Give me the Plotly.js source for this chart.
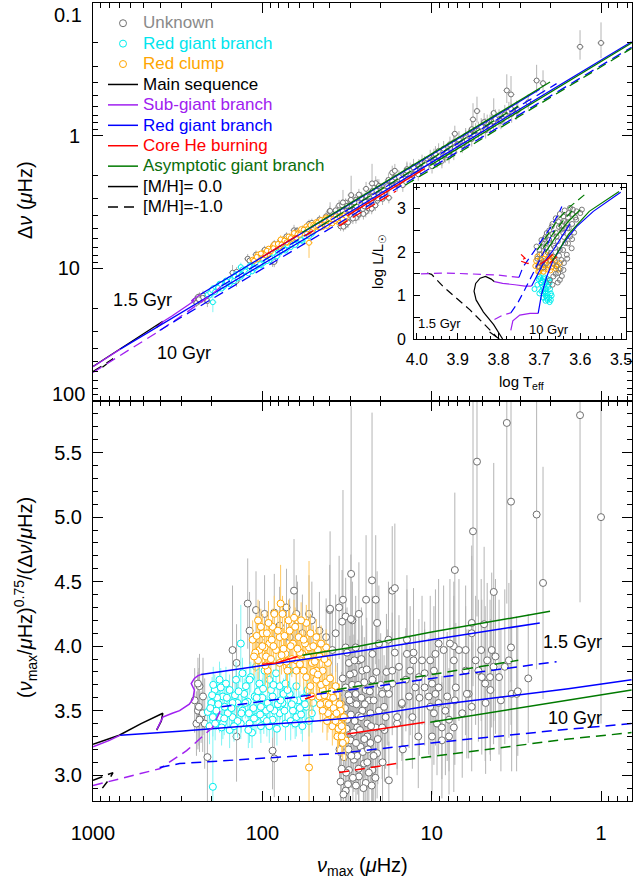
<!DOCTYPE html>
<html><head><meta charset="utf-8">
<script src="https://cdn.plot.ly/plotly-3.0.1.min.js"></script>
<style>html,body{margin:0;padding:0;background:#fff}#chart{width:633px;height:882px}</style>
</head><body><div id="chart"></div>
<script>
// ---------------- stars: nu_max (muHz), ratio = nu_max^0.75/dnu, ratio error ----------------
const unkNumax = [
251,240,235,230,245,224,219,240,235,225,150,211,142,87,237,142,
122,109,97,85,65,63,62,53,51,46,40,35.2,32.2,29.4,119,104,79,69,58,42,38.6,36.9,32.2,29.9,72,85,
30.8,28.8,26.9,32.2,28.1,24.5,29.4,25.7,23.5,31.5,27.5,24.0,30.1,26.3,23.0,28.8,25.1,30.8,26.9,24.5,
22.4,33.0,21.4,20.5,22.4,25.7,28.1,22.4,19.6,18.7,17.9,21.0,32.2,34,33,31,29,27,26,24,
23,32,27.5,25,29.5,35,31,24,28,34,22,30,
33.5,32.5,31.8,30.5,29.8,29.2,28.5,28.0,27.2,27.0,26.5,26.0,25.5,25.3,24.8,24.2,23.8,23.2,22.8,22.0,
21.5,21.2,20.8,20.0,19.5,19.0,18.5,35.5,36.0,34.5,33.2,31.2,30.4,27.8,26.1,25.0,23.5,22.6,28.6,31.6,
16,15,14.8,13,12,11.8,16.5,14,12.8,18,
21,17.1,21.4,26.9,33.8,13.6,13.4,15.6,14.2,17.1,17.9,19.1,11.4,11.0,12.5,10.2,9.7,9.95,9.5,9.1,
9.7,9.3,8.7,8.3,7.9,10.2,9.1,8.1,8.5,9.5,7.4,7.4,6.3,6.3,6.05,5.5,5.06,4.83,4.52,4.42,
4.31,5.8,5.8,3.37,3.15,3.1,2.69,7.2,
9.1,7.8,6.9,5.3,4.7,4.0,3.7,3.9,4.8,5.8,6.6,7.4,7.9,8.7,9.95,10.4,11.0,11.9,12.8,14.0,
15.0,16.0,17.1,18.3,19.6,20.5,5.1,4.2,3.5,3.4,6.2,4.5,7.3,
1.33,3.6,5.4,3.4,1.0,2.4,5.7,7.3,2.2,4.3,22.5,16.5,24.4,39.8,33.4,30,4.9];
const unkRatio = [
3.58,3.50,3.69,3.45,3.40,3.61,3.40,3.71,3.43,3.48,3.97,3.14,3.30,3.19,3.53,3.87,
4.33,4.28,4.25,3.13,4.43,4.25,4.20,4.25,4.20,4.12,4.28,4.30,4.23,4.20,4.12,4.05,4.16,4.07,4.10,4.07,3.97,4.10,3.99,4.56,4.30,4.26,
3.87,3.79,3.89,3.68,3.63,3.66,3.56,3.50,3.58,3.43,3.37,3.40,3.27,3.22,3.25,3.12,3.09,3.04,2.99,2.94,
3.04,3.14,3.37,3.50,3.74,3.81,3.99,3.94,3.63,3.45,2.96,3.17,2.88,3.55,3.30,3.20,3.33,3.46,3.60,3.30,
3.48,3.02,3.15,3.72,3.70,3.20,3.62,3.10,2.92,3.05,3.15,3.47,
3.75,3.52,3.36,3.58,3.15,2.98,3.42,3.25,3.70,3.05,3.35,3.90,3.18,2.90,3.55,3.82,3.20,3.65,3.38,3.58,
2.98,3.80,3.28,3.70,3.10,3.35,3.80,3.40,3.62,2.95,2.85,2.93,3.78,3.55,3.45,3.28,3.02,2.92,3.89,3.95,
3.40,3.55,3.20,3.45,3.30,3.60,3.95,4.05,3.95,4.05,
4.18,4.43,4.36,4.25,4.19,3.61,3.81,3.84,3.74,3.71,3.63,3.53,3.89,3.79,3.68,3.89,3.81,3.71,3.63,3.56,
3.48,3.40,3.37,3.50,3.43,3.53,3.68,3.61,3.97,3.94,4.00,3.89,3.97,3.81,3.63,3.89,3.76,3.71,3.76,3.97,
3.84,4.10,4.18,3.63,3.63,3.65,3.75,3.68,
4.02,4.02,3.97,3.81,3.89,3.76,3.84,3.58,3.56,3.53,3.48,3.37,3.30,3.27,3.30,3.61,3.68,3.76,3.89,3.94,
3.56,3.45,3.81,3.68,3.37,4.02,3.97,3.92,3.89,3.99,3.63,3.66,3.58,
5.79,5.73,5.43,5.12,5.00,5.02,4.89,4.59,4.49,4.42,4.51,4.45,4.36,4.29,4.36,4.21,4.17];
const unkErr = [
0.25,0.30,0.25,0.20,0.25,0.30,0.35,0.20,0.25,0.30,0.50,0.35,0.35,0.30,0.30,0.30,
0.35,0.30,0.30,0.30,0.40,0.30,0.30,0.30,0.30,0.30,0.35,0.40,0.30,0.30,0.30,0.30,0.30,0.30,0.30,0.30,0.30,0.30,0.30,1.30,0.30,0.30,
0.35,0.30,0.35,0.30,0.30,0.35,0.30,0.30,0.35,0.25,0.30,0.30,0.25,0.30,0.30,0.25,0.30,0.25,0.30,0.30,
0.35,0.25,0.35,0.40,0.40,0.35,0.40,0.45,0.40,0.40,0.30,0.35,0.25,0.25,0.25,0.25,0.30,0.30,0.30,0.30,
0.35,0.25,0.30,0.35,0.30,0.25,0.30,0.30,0.30,0.25,0.35,0.30,
0.30,0.25,0.25,0.30,0.25,0.30,0.30,0.30,0.35,0.30,0.30,0.40,0.30,0.30,0.35,0.40,0.30,0.35,0.35,0.40,
0.30,0.40,0.35,0.40,0.35,0.40,0.45,0.25,0.25,0.25,0.25,0.30,0.30,0.30,0.30,0.30,0.30,0.30,0.35,0.35,
0.40,0.40,0.40,0.40,0.40,0.45,0.45,0.50,0.50,0.45,
0.40,0.50,0.50,0.40,0.40,0.40,0.50,0.40,0.40,0.40,0.40,0.40,0.50,0.40,0.40,0.50,0.50,0.40,0.40,0.40,
0.40,0.40,0.40,0.50,0.40,0.40,0.40,0.50,0.50,0.50,0.50,0.50,0.50,0.50,0.50,0.50,0.60,0.60,0.60,0.60,
0.60,0.60,0.60,0.60,0.60,0.50,0.50,0.50,
0.50,0.50,0.55,0.55,0.60,0.60,0.60,0.55,0.55,0.50,0.50,0.50,0.45,0.45,0.45,0.45,0.45,0.45,0.50,0.50,
0.45,0.40,0.45,0.45,0.40,0.45,0.55,0.60,0.60,0.60,0.50,0.55,0.50,
1.45,1.40,1.20,1.40,1.60,1.20,1.20,0.60,0.90,1.00,1.30,0.50,0.50,0.60,0.85,0.50,0.60];

const rgbNumax = [196,134,179,200,187,171,156,143,131,125,117,111,104,97,91,87,79,76,69,66,
61,55,51,205,171,150,131,119,109,95,87,79,73,63,58,156,102,179,140,83,
73,109,164,191,93,122,63,54,150,91,196,119,69,102,134,167,185,160,145,128,
113,106,98,89,81,75,68,60,57,174,140,115,100,85,210,195,120,65,
203,198,190,182,176,168,162,152,147,138,133,126,121,112,108,103,99,94,90,86,
82,78,74,71,67,64,59,56,53,50];
const rgbRatio = [2.91,4.02,3.74,3.56,3.50,3.61,3.66,3.74,3.79,3.69,3.76,3.61,3.71,3.81,3.74,3.61,3.69,3.56,3.63,3.50,
3.58,3.53,3.48,3.38,3.40,3.45,3.50,3.40,3.45,3.50,3.43,3.48,3.40,3.45,3.38,3.35,3.38,3.45,3.56,3.79,
3.71,3.84,3.71,3.66,3.56,3.57,3.69,3.66,3.56,3.38,3.45,3.74,3.81,3.53,3.40,3.53,3.60,3.48,3.62,3.63,
3.52,3.65,3.44,3.66,3.55,3.63,3.42,3.52,3.60,3.37,3.42,3.33,3.60,3.50,3.49,3.70,3.48,3.58,
3.52,3.62,3.40,3.55,3.68,3.44,3.60,3.52,3.38,3.65,3.48,3.56,3.35,3.44,3.60,3.47,3.67,3.42,3.52,3.70,
3.36,3.58,3.50,3.66,3.55,3.40,3.47,3.55,3.42,3.56];
const rgbErr = [0.55,0.30,0.14,0.12,0.15,0.13,0.12,0.14,0.12,0.13,0.12,0.15,0.13,0.12,0.14,0.12,0.13,0.15,0.12,0.14,
0.13,0.12,0.15,0.14,0.12,0.13,0.12,0.15,0.13,0.12,0.14,0.12,0.13,0.15,0.12,0.14,0.13,0.12,0.15,0.13,
0.12,0.14,0.13,0.12,0.15,0.13,0.12,0.14,0.12,0.13,0.15,0.12,0.14,0.13,0.12,0.15,0.13,0.12,0.14,0.12,
0.13,0.15,0.12,0.14,0.13,0.12,0.15,0.13,0.12,0.14,0.13,0.12,0.15,0.13,0.12,0.14,0.12,0.13,
0.12,0.14,0.13,0.12,0.15,0.13,0.12,0.14,0.12,0.13,0.15,0.12,0.14,0.13,0.12,0.15,0.13,0.12,0.14,0.12,
0.13,0.15,0.12,0.14,0.13,0.12,0.15,0.13,0.12,0.14];

const rcNumax = [114,106,104,99.6,95,91,87,83,79,76,73,69,66,63,61,58,55,53,51,48,
46,44,42,106,93,79,71,63,57,85,78,97,59,52,47,41,55,52,48,46,
44,42,40,39.5,37.7,36.9,35.2,33.7,33.0,34.5,38.6,32.2,36.0,41,44,48,51,36.9,53,
45,43,40.5,38,37,35.5,34,39,42,50,60,67,75,88,100,110,70,56,64,92,
112,108,102,96,94,89,86,81,77,74,72,68,65,62,60,57,54,50,49,45,
43,47,45.5,41.5,39.8,38.2,36.5,35.0,34.0,33.5];
const rcRatio = [4.05,4.20,3.97,4.10,3.92,4.02,4.15,3.97,4.07,4.25,3.94,4.12,4.02,3.89,4.07,3.94,4.18,3.99,3.87,4.07,
3.92,3.81,3.99,3.89,3.81,3.87,3.81,3.81,3.81,4.25,4.33,3.99,4.20,4.10,3.97,3.87,3.76,3.69,3.74,3.61,
3.66,3.56,3.61,3.50,3.45,3.56,3.40,3.35,3.45,3.50,3.38,3.27,3.30,3.48,3.50,3.81,3.61,3.69,3.06,
3.70,3.62,3.55,3.52,3.42,3.36,3.30,3.65,3.72,3.80,3.95,3.90,3.98,4.05,4.00,3.95,4.20,4.02,4.15,4.18,
3.92,4.08,4.15,3.85,4.10,3.90,4.00,4.12,3.93,4.08,3.88,4.00,4.22,3.98,3.86,4.05,3.92,4.00,3.88,4.02,
3.90,3.78,3.55,3.42,3.75,3.60,3.48,3.55,3.38,3.25];
const rcErr = [0.15,0.16,0.14,0.15,0.17,0.15,0.14,0.16,0.15,0.14,0.15,0.16,0.14,0.15,0.17,0.15,0.14,0.16,0.15,0.14,
0.15,0.16,0.14,0.15,0.17,0.15,0.14,0.16,0.15,0.14,0.30,0.16,0.14,0.15,0.17,0.15,0.14,0.16,0.15,0.14,
0.15,0.16,0.14,0.15,0.17,0.15,0.14,0.16,0.15,0.14,0.15,0.16,0.14,0.15,0.17,0.15,0.14,0.16,1.60,
0.15,0.14,0.16,0.15,0.14,0.15,0.16,0.14,0.15,0.17,0.15,0.14,0.16,0.15,0.14,0.15,0.16,0.14,0.15,0.17,
0.15,0.16,0.14,0.15,0.17,0.15,0.14,0.16,0.15,0.14,0.15,0.16,0.14,0.15,0.17,0.15,0.14,0.16,0.15,0.14,
0.15,0.16,0.14,0.15,0.17,0.15,0.14,0.16,0.15,0.14];

// ---------------- model tracks (nu_max, ratio) ----------------
const ms15Numax = [1000,700,520,420,387,395,421], ms15Ratio = [3.24,3.31,3.40,3.46,3.48,3.42,3.35];
const sgb15Numax = [421,387,340,308,270,257,252,263,252,241,230], sgb15Ratio = [3.35,3.45,3.48,3.50,3.55,3.59,3.66,3.71,3.75,3.77,3.78];
const rgb15Numax = [230,100,30,10,2.3], rgb15Ratio = [3.78,3.85,3.95,4.05,4.18];
const cheb15Numax = [100,83,62], cheb15Ratio = [3.86,3.87,3.92];
const agb15Numax = [58,27,10,2.0], agb15Ratio = [3.93,4.00,4.11,4.27];
const ms15mNumax = [1000,870,762,800,880], ms15mRatio = [2.96,2.99,3.02,2.97,2.90];
const sgb15mNumax = [1000,404,280,197,174], sgb15mRatio = [2.92,3.05,3.19,3.37,3.52];
const rgb15mNumax = [174,100,27,10,1.83], rgb15mRatio = [3.53,3.57,3.67,3.75,3.88];
const cheb15mNumax = [56,48], cheb15mRatio = [3.59,3.62];
const agb15mNumax = [45,33.8,10,3.08], agb15mRatio = [3.64,3.67,3.78,3.89];
const sgb10Numax = [1000,800,690], sgb10Ratio = [3.22,3.27,3.31];
const rgb10Numax = [690,308,100,48,27,10,1.56,0.66], rgb10Ratio = [3.31,3.34,3.39,3.42,3.45,3.54,3.67,3.74];
const cheb10Numax = [31.5,11.0], cheb10Ratio = [3.32,3.41];
const agb10Numax = [10.2,1.56,0.66], agb10Ratio = [3.41,3.58,3.66];
const rgb10mNumax = [404,308,35,10,1.75,0.66], rgb10mRatio = [3.06,3.09,3.17,3.25,3.35,3.40];
const cheb10mNumax = [35.2,16.2], cheb10mRatio = [3.02,3.09];
const agb10mNumax = [14.3,1.56,0.66], agb10mRatio = [3.12,3.28,3.33];

// ---------------- HR inset (log Teff, log L) ----------------
const hrUnkT = [3.707,3.695,3.682,3.670,3.654,3.641,3.629,3.609,3.596,3.690,3.674,3.658,3.646,3.633,3.666,3.650,3.637,3.625,3.658,3.646,
3.633,3.621,3.654,3.641,3.650,3.666,3.674,3.682,3.695,3.703,3.680,3.665,3.660,3.645,3.700,3.688,3.618,3.612,3.628,3.640,
3.700,3.692,3.685,3.676,3.668,3.660,3.650,3.638,3.625,3.684,3.676,3.668,3.652,3.640,3.630,3.620,3.672,3.662,3.655,3.642,
3.632,3.620,3.610,3.662,3.652,3.642,3.630,3.620,3.648,3.640,3.632,3.660,3.645,3.655,3.668,3.690,3.698,3.705,3.600,3.615];
const hrUnkL = [2.13,2.28,2.44,2.59,2.71,2.82,2.90,2.94,2.98,2.13,2.21,2.36,2.52,2.67,1.90,2.05,2.21,2.36,1.67,1.82,
1.94,2.09,1.52,1.59,1.36,1.44,1.36,1.75,1.82,1.67,2.00,2.15,2.45,2.60,1.95,2.30,2.98,2.80,2.55,2.35,
2.05,2.20,2.35,2.50,2.65,2.78,2.88,2.96,3.02,2.10,2.28,2.42,2.58,2.72,2.80,2.88,1.98,2.10,2.25,2.45,
2.55,2.65,2.75,1.80,1.92,2.05,2.20,2.30,1.62,1.75,1.85,1.50,1.45,1.30,1.25,1.65,1.75,1.85,2.90,2.45];
const hrRgbT = [3.700,3.695,3.690,3.685,3.680,3.675,3.678,3.688,3.672,3.683,3.695,3.705,3.690,3.676,3.700,3.712,
3.698,3.693,3.688,3.684,3.680,3.676,3.672,3.692,3.686,3.682,3.678,3.674,3.670,3.696,3.702,3.688,3.680,3.685,3.675,3.690];
const hrRgbL = [1.44,1.30,1.15,1.00,0.90,0.85,1.20,1.38,1.05,1.30,1.10,1.25,0.95,1.35,1.05,1.15,
1.40,1.35,1.25,1.15,1.05,0.95,0.90,1.20,1.08,0.95,1.25,1.15,1.00,1.30,1.38,1.42,1.38,0.88,1.30,1.05];
const hrRcT = [3.705,3.700,3.695,3.690,3.685,3.680,3.675,3.670,3.665,3.660,3.655,3.650,3.700,3.690,3.710,3.685,3.670,
3.708,3.703,3.698,3.693,3.688,3.683,3.678,3.673,3.668,3.663,3.658,3.653,3.703,3.695,3.676];
const hrRcL = [1.90,1.75,1.62,1.85,1.70,1.60,1.80,1.65,1.72,1.62,1.70,1.75,1.55,1.55,1.68,1.95,1.88,
1.80,1.65,1.85,1.72,1.62,1.82,1.70,1.58,1.75,1.85,1.68,1.60,1.55,1.95,1.92];

const hrMs15T = [3.790,3.812,3.837,3.855,3.860,3.856,3.845,3.832,3.818,3.810], hrMs15L = [0.0,0.33,0.62,0.90,1.10,1.28,1.40,1.44,1.38,1.32];
const hrMs10T = [3.822,3.798], hrMs10L = [0.16,0.0];
const hrSgb15T = [3.810,3.790,3.760,3.735,3.719], hrSgb15L = [1.32,1.28,1.25,1.22,1.22];
const hrRgb15T = [3.719,3.707,3.690,3.666,3.645,3.625], hrRgb15L = [1.22,1.44,1.75,2.05,2.35,2.65];
const hrCheb15T = [3.699,3.682,3.667], hrCheb15L = [1.72,1.82,1.95];
const hrAgb15T = [3.685,3.660,3.630,3.600], hrAgb15L = [2.00,2.35,2.70,2.98];
const hrSgb10T = [3.770,3.765,3.748,3.723,3.703], hrSgb10L = [0.20,0.42,0.55,0.59,0.59];
const hrRgb10T = [3.703,3.695,3.682,3.666,3.641,3.609,3.568,3.527,3.501], hrRgb10L = [0.59,1.02,1.44,1.82,2.21,2.59,2.94,3.21,3.38];
const hrCheb10T = [3.674,3.658], hrCheb10L = [1.75,1.90];
const hrAgb10T = [3.668,3.628,3.578,3.505], hrAgb10L = [1.80,2.42,2.94,3.40];
const hrMs15mT = [3.975,3.964,3.936,3.903,3.870,3.837,3.805], hrMs15mL = [1.52,1.49,1.21,0.94,0.67,0.36,0.05];
const hrSgb15mT = [3.990,3.930,3.870,3.800,3.750], hrSgb15mL = [1.50,1.52,1.50,1.47,1.42];
const hrRgb15mT = [3.750,3.740,3.716,3.694,3.674,3.655,3.645], hrRgb15mL = [1.42,1.66,1.98,2.29,2.55,2.85,3.05];
const hrCheb15mT = [3.745,3.735,3.748,3.728,3.718], hrCheb15mL = [1.95,1.86,1.80,1.74,1.84];
const hrAgb15mT = [3.705,3.680,3.655,3.625,3.590], hrAgb15mL = [2.05,2.40,2.75,3.05,3.32];
const hrSgb10mT = [3.810,3.790,3.770], hrSgb10mL = [0.45,0.55,0.60];
const hrRgb10mT = [3.770,3.752,3.735,3.718,3.700,3.682,3.665], hrRgb10mL = [0.60,0.85,1.15,1.45,1.80,2.15,2.50];
const hrAgb10mT = [3.690,3.665,3.640,3.615], hrAgb10mL = [2.10,2.45,2.75,3.00];

// ---------------- styling ----------------
const FONT = 'Liberation Sans, Arial, Helvetica, DejaVu Sans, sans-serif';
const C = {gray:'#707070', grayE:'#b4b4b4', cyan:'#00eeee', cyanE:'#80f4f4', orange:'#ffa500', orangeE:'#ffc860',
  black:'#000000', purple:'#a020f0', blue:'#0000ff', red:'#ff0000', green:'#007a00'};
const DASH = '10px,6px';

const toDnu = (nu, r) => nu.map((v,i) => Math.pow(v,0.75)/r[i]);
const toDnuErr = (nu, r, e) => nu.map((v,i) => Math.pow(v,0.75)/r[i]*Math.min(e[i]/r[i], 0.3));

const traces = [];
function starSet(nu, r, e, col, ecol, name, rank) {
  traces.push({type:'scatter', mode:'markers', x:nu, y:r, xaxis:'x', yaxis:'y',
    marker:{symbol:'circle', size:7, color:'white', line:{color:col, width:1}},
    error_y:{type:'data', array:e, visible:true, color:ecol, thickness:1, width:0},
    error_x:{type:'percent', value:5, visible:true, color:ecol, thickness:1, width:0},
    name:name, legendrank:rank, showlegend:true, hoverinfo:'skip'});
  traces.push({type:'scatter', mode:'markers', x:nu, y:toDnu(nu,r), xaxis:'x2', yaxis:'y2',
    marker:{symbol:'circle', size:5, color:'white', line:{color:col, width:1}},
    error_y:{type:'data', array:toDnuErr(nu,r,e), visible:true, color:ecol, thickness:1, width:0},
    error_x:{type:'percent', value:5, visible:true, color:ecol, thickness:1, width:0},
    showlegend:false, hoverinfo:'skip'});
}
const lg = (txt, col) => '<span style="color:'+col+';font-size:17px">'+txt+'</span>';
starSet(unkNumax, unkRatio, unkErr, C.gray, C.grayE, lg('Unknown','#8a8a8a'), 1);
starSet(rgbNumax, rgbRatio, rgbErr, C.cyan, C.cyanE, lg('Red giant branch','#00e5ee'), 2);
starSet(rcNumax, rcRatio, rcErr, C.orange, C.orangeE, lg('Red clump','#ffa500'), 3);

// inset stars
[[hrRgbT,hrRgbL,C.cyan],[hrRcT,hrRcL,C.orange],[hrUnkT,hrUnkL,'#7a7a7a']].forEach(s => {
  traces.push({type:'scatter', mode:'markers', x:s[0], y:s[1], xaxis:'x3', yaxis:'y3',
    marker:{symbol:'circle-open', size:5, color:s[2], line:{width:1}}, showlegend:false, hoverinfo:'skip'});
});

const trackDefs = [
  [ms15Numax, ms15Ratio, C.black, false, 'Main sequence', 4],
  [sgb15Numax, sgb15Ratio, C.purple, false, 'Sub-giant branch', 5],
  [rgb15Numax, rgb15Ratio, C.blue, false, 'Red giant branch', 6],
  [cheb15Numax, cheb15Ratio, C.red, false, 'Core He burning', 7],
  [agb15Numax, agb15Ratio, C.green, false, 'Asymptotic giant branch', 8],
  [sgb10Numax, sgb10Ratio, C.purple, false, null, 0],
  [rgb10Numax, rgb10Ratio, C.blue, false, null, 0],
  [cheb10Numax, cheb10Ratio, C.red, false, null, 0],
  [agb10Numax, agb10Ratio, C.green, false, null, 0],
  [ms15mNumax, ms15mRatio, C.black, true, null, 0],
  [sgb15mNumax, sgb15mRatio, C.purple, true, null, 0],
  [rgb15mNumax, rgb15mRatio, C.blue, true, null, 0],
  [cheb15mNumax, cheb15mRatio, C.red, true, null, 0],
  [agb15mNumax, agb15mRatio, C.green, true, null, 0],
  [rgb10mNumax, rgb10mRatio, C.blue, true, null, 0],
  [cheb10mNumax, cheb10mRatio, C.red, true, null, 0],
  [agb10mNumax, agb10mRatio, C.green, true, null, 0]
];
const legendCols = {'Main sequence':'#000000','Sub-giant branch':'#a020f0','Red giant branch':'#0000ff','Core He burning':'#ff0000','Asymptotic giant branch':'#0b6e0b'};
trackDefs.forEach(d => {
  const [nu, r, col, dashed, name, rank] = d;
  traces.push({type:'scatter', mode:'lines', x:nu, y:r, xaxis:'x', yaxis:'y',
    line:{color:col, width:1.5, dash: dashed ? DASH : 'solid'},
    name: name ? lg(name, legendCols[name]) : '', showlegend: !!name, legendrank: rank || 100, hoverinfo:'skip'});
  traces.push({type:'scatter', mode:'lines', x:nu, y:toDnu(nu,r), xaxis:'x2', yaxis:'y2',
    line:{color:col, width:1.3, dash: dashed ? DASH : 'solid'}, showlegend:false, hoverinfo:'skip'});
});
const hrDefs = [
  [hrMs15T,hrMs15L,C.black,false],[hrMs10T,hrMs10L,C.black,false],[hrSgb15T,hrSgb15L,C.purple,false],
  [hrRgb15T,hrRgb15L,C.blue,false],[hrCheb15T,hrCheb15L,C.red,false],[hrAgb15T,hrAgb15L,C.green,false],
  [hrSgb10T,hrSgb10L,C.purple,false],[hrRgb10T,hrRgb10L,C.blue,false],[hrCheb10T,hrCheb10L,C.red,false],
  [hrAgb10T,hrAgb10L,C.green,false],[hrMs15mT,hrMs15mL,C.black,true],[hrSgb15mT,hrSgb15mL,C.purple,true],
  [hrRgb15mT,hrRgb15mL,C.blue,true],[hrCheb15mT,hrCheb15mL,C.red,true],[hrAgb15mT,hrAgb15mL,C.green,true],
  [hrSgb10mT,hrSgb10mL,C.purple,true],[hrRgb10mT,hrRgb10mL,C.blue,true],[hrAgb10mT,hrAgb10mL,C.green,true]
];
hrDefs.forEach(d => {
  traces.push({type:'scatter', mode:'lines', x:d[0], y:d[1], xaxis:'x3', yaxis:'y3',
    line:{color:d[2], width:1.2, dash: d[3] ? '8px,5px' : 'solid'}, showlegend:false, hoverinfo:'skip'});
});
// metallicity legend entries
traces.push({type:'scatter', mode:'lines', x:[null], y:[null], xaxis:'x', yaxis:'y', line:{color:'black', width:1.5},
  name: lg('[M/H]= 0.0','#000'), legendrank:9, showlegend:true});
traces.push({type:'scatter', mode:'lines', x:[null], y:[null], xaxis:'x', yaxis:'y', line:{color:'black', width:1.5, dash:DASH},
  name: lg('[M/H]=-1.0','#000'), legendrank:10, showlegend:true});

// ---------------- layout ----------------
function logMinor(lo, hi) { const v=[]; for (let e=lo; e<hi; e++) for (let k=2;k<10;k++) v.push(k*Math.pow(10,e)); return v; }
const axBase = {ticks:'inside', tickcolor:'black', tickwidth:1, showline:true, linecolor:'black', linewidth:1,
  mirror:'allticks', showgrid:false, zeroline:false, autorange:false};
const X = [93/633, 632/633];
const layout = {
  width:633, height:882, margin:{l:0,r:0,t:0,b:0}, paper_bgcolor:'white', plot_bgcolor:'white',
  font:{family:FONT, size:20, color:'black'}, hovermode:false, showlegend:true,
  legend:{x:103/633, y:1-8/882, xanchor:'left', yanchor:'top', bgcolor:'rgba(0,0,0,0)', borderwidth:0,
    font:{family:FONT, size:13.4, color:'black'}, itemwidth:30, traceorder:'normal'},
  xaxis: Object.assign({}, axBase, {domain:X, anchor:'y', type:'log', range:[3, -0.183], dtick:1, exponentformat:'none',
    ticklen:10, tickfont:{size:20}, ticklabelstandoff:14,
    minor:{tickvals:logMinor(-1,3), ticks:'inside', ticklen:5, tickcolor:'black', tickwidth:1, showgrid:false}}),
  yaxis: Object.assign({}, axBase, {domain:[1-801/882, 1-401/882], anchor:'x', range:[2.8, 5.9], dtick:0.5, tick0:0,
    tickformat:'.1f', ticklen:10, tickfont:{size:20}, ticklabelstandoff:6,
    minor:{dtick:0.1, ticks:'inside', ticklen:5, tickcolor:'black', tickwidth:1, showgrid:false}}),
  xaxis2: Object.assign({}, axBase, {domain:X, anchor:'y2', type:'log', range:[3, -0.183], dtick:1, showticklabels:false,
    ticklen:10, minor:{tickvals:logMinor(-1,3), ticks:'inside', ticklen:5, tickcolor:'black', tickwidth:1, showgrid:false}}),
  yaxis2: Object.assign({}, axBase, {domain:[1-401/882, 1-3/882], anchor:'x2', type:'log', range:[2, -1],
    tickvals:[0.1,1,10,100], ticktext:['','1','10',''], ticklen:10, tickfont:{size:20}, ticklabelstandoff:8,
    minor:{tickvals:logMinor(-1,2), ticks:'inside', ticklen:5, tickcolor:'black', tickwidth:1, showgrid:false}}),
  xaxis3: Object.assign({}, axBase, {domain:[414/633, 626/633], anchor:'y3', range:[4.007, 3.488], dtick:0.1, tick0:0,
    tickformat:'.1f', ticklen:6, tickfont:{size:16}, ticklabelstandoff:6,
    minor:{dtick:0.02, ticks:'inside', ticklen:3, tickcolor:'black', tickwidth:1, showgrid:false}}),
  yaxis3: Object.assign({}, axBase, {domain:[1-339/882, 1-184/882], anchor:'x3', range:[0, 3.57], dtick:1, tick0:0,
    ticklen:6, tickfont:{size:16}, ticklabelstandoff:4,
    minor:{dtick:0.5, ticks:'inside', ticklen:6, tickcolor:'black', tickwidth:1, showgrid:false}}),
  annotations: []
};
function ann(text, px, py, size, angle) {
  layout.annotations.push({text:text, xref:'paper', yref:'paper', x:px/633, y:1-py/882, xanchor:'center', yanchor:'middle',
    showarrow:false, textangle:angle||0, font:{family:FONT, size:size, color:'black'}});
}
ann('0.1', 68, 15, 20);
ann('100', 68, 394, 20);
ann('Δ<i>ν</i> (<i>μ</i>Hz)', 25, 200, 20, -90);
ann('(<i>ν</i><sub>max</sub>/<i>μ</i>Hz)<sup>0.75</sup>/(Δ<i>ν</i>/<i>μ</i>Hz)', 25, 598, 20, -90);
ann('<i>ν</i><sub>max</sub> (<i>μ</i>Hz)', 362, 866, 20, 0);
ann('log L/L<sub>☉</sub>', 379, 262, 15, -90);
ann('log T<sub>eff</sub>', 521, 382, 15, 0);
ann('1.5 Gyr', 142, 300, 18);
ann('10 Gyr', 184, 353, 18);
ann('1.5 Gyr', 572, 642, 18);
ann('10 Gyr', 575, 718, 18);
ann('1.5 Gyr', 439, 323, 13);
ann('10 Gyr', 549, 329, 13);

Plotly.newPlot('chart', traces, layout, {staticPlot:true, displayModeBar:false});
</script></body></html>
